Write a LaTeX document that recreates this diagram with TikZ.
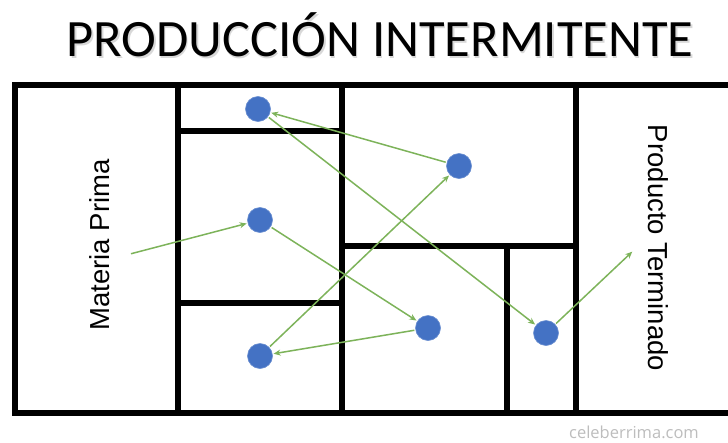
\documentclass[tikz,border=0pt]{standalone}
\usepackage{fontspec}
\setmainfont{Carlito}
\newfontfamily\wmfont{Open Sans}
\newfontfamily\sidefont{Liberation Sans}
\usetikzlibrary{arrows.meta}
\definecolor{dotblue}{HTML}{4472C4}
\definecolor{arrgreen}{HTML}{7DB35A}
\definecolor{wmgray}{HTML}{BDBDBD}
\begin{document}
\begin{tikzpicture}[x=1pt,y=-1pt,
  wall/.style={line width=6pt,black},
  dot/.style={circle,fill=dotblue,draw=dotblue!80!white,line width=0.6pt,minimum size=25pt,inner sep=0pt},
  flow/.style={arrgreen,line width=1.5pt,-{Stealth[length=7pt,width=6pt]},shorten <=1pt,shorten >=1pt},
  side/.style={font=\sidefont\fontsize{27.5}{30}\selectfont}
]
\useasboundingbox (0,0) rectangle (728,442);
% title
\node[font=\fontsize{52.5}{58}\selectfont,text=black!30,opacity=0.5] at (381.5,37) {PRODUCCIÓN INTERMITENTE};
\node[font=\fontsize{52.5}{58}\selectfont] (title) at (380,35) {PRODUCCIÓN INTERMITENTE};
% walls
\draw[wall] (731,85) -- (15,85) -- (15,413) -- (731,413);
\draw[wall] (178,85) -- (178,413);
\draw[wall] (342,85) -- (342,413);
\draw[wall] (576,85) -- (576,413);
\draw[wall] (178,131) -- (342,131);
\draw[wall] (178,303) -- (342,303);
\draw[wall] (342,246) -- (576,246);
\draw[wall] (507,246) -- (507,413);
% labels
\node[side,rotate=90] (mp) at (100,245) {Materia Prima};
\node[side,rotate=-90] (pt) at (658,248) {Producto Terminado};
% dots
\node[dot] (d1) at (258,109) {};
\node[dot] (d2) at (260,220) {};
\node[dot] (d3) at (459,166) {};
\node[dot] (d4) at (260,356) {};
\node[dot] (d5) at (428,328) {};
\node[dot] (d6) at (546,333) {};
\coordinate (in) at (130,254);
\coordinate (out) at (633,251);
% flows
\draw[flow] (in) -- (d2);
\draw[flow] (d2) -- (d5);
\draw[flow] (d5) -- (d4);
\draw[flow] (d4) -- (d3);
\draw[flow] (d3) -- (d1);
\draw[flow] (d1) -- (d6);
\draw[flow] (d6) -- (out);
% watermark
\node[font=\wmfont\fontsize{16.5}{18}\selectfont,text=wmgray,anchor=base,inner sep=0pt] (wm) at (634,438) {celeberrima.com};
\end{tikzpicture}
\end{document}
